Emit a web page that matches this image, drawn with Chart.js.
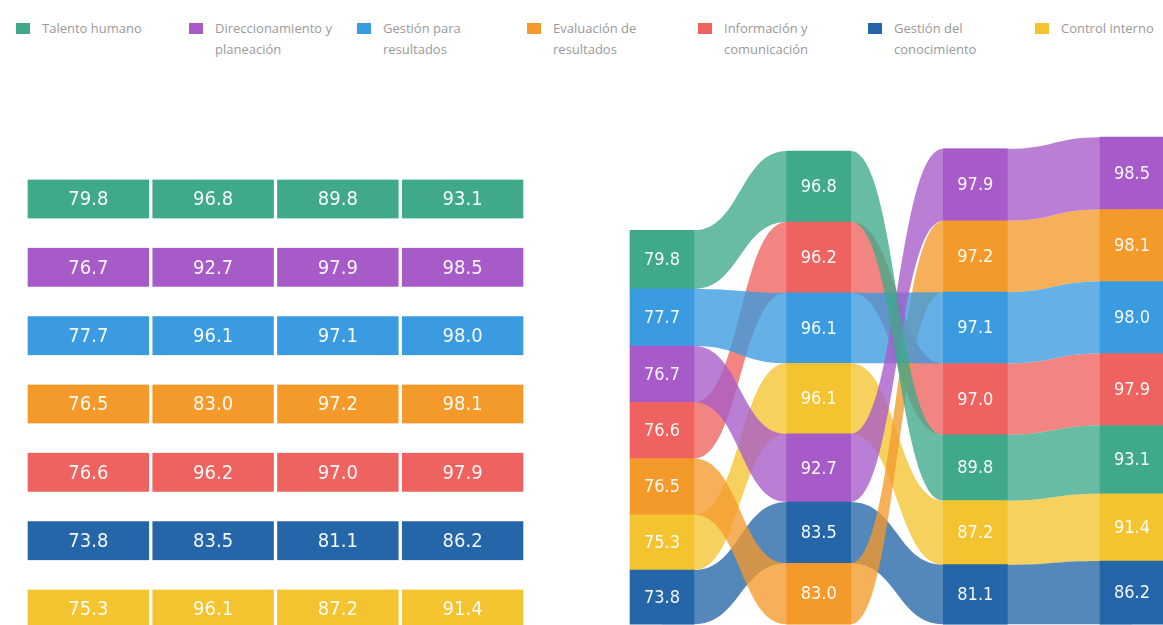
<!DOCTYPE html>
<html>
<head>
<meta charset="utf-8">
<script src="https://cdn.jsdelivr.net/npm/chart.js@4"></script>
<style>
  html, body { margin: 0; padding: 0; background: #fff; }
  body { width: 1163px; height: 625px; position: relative; overflow: hidden; font-family: "Open Sans", sans-serif; }
  #leyenda { position: absolute; top: 0; left: 0; width: 1163px; height: 70px; }
  .item { position: absolute; top: 18px; display: flex; align-items: flex-start; }
  .caja { width: 14px; height: 11px; margin-top: 5px; margin-right: 12px; }
  .texto { font-size: 13px; line-height: 21px; color: #9a9a9a; white-space: nowrap; }
  #tabla { position: absolute; left: 0; top: 0; width: 560px; height: 625px; }
  #flujo { position: absolute; left: 580px; top: 0; width: 583px; height: 625px; }
</style>
</head>
<body>
<div id="leyenda"></div>
<div id="tabla"><canvas id="chartTabla"></canvas></div>
<div id="flujo"><canvas id="chartFlujo"></canvas></div>
<script>
// Categorías (dimensiones) y periodos
const categorias = ["Talento humano", "Direccionamiento y planeación", "Gestión para resultados",
  "Evaluación de resultados", "Información y comunicación", "Gestión del conocimiento", "Control interno"];
const etiquetasLeyenda = ["Talento humano", "Direccionamiento y<br>planeación", "Gestión para<br>resultados",
  "Evaluación de<br>resultados", "Información y<br>comunicación", "Gestión del<br>conocimiento", "Control interno"];
const periodos = ["Periodo 1", "Periodo 2", "Periodo 3", "Periodo 4"];

// Valores por categoría (uno por periodo)
const talentoHumano = [79.8, 96.8, 89.8, 93.1];
const direccionamiento = [76.7, 92.7, 97.9, 98.5];
const gestionResultados = [77.7, 96.1, 97.1, 98.0];
const evaluacion = [76.5, 83.0, 97.2, 98.1];
const informacion = [76.6, 96.2, 97.0, 97.9];
const conocimiento = [73.8, 83.5, 81.1, 86.2];
const controlInterno = [75.3, 96.1, 87.2, 91.4];

const valores = [talentoHumano, direccionamiento, gestionResultados, evaluacion, informacion, conocimiento, controlInterno];
const colores = ["#3fa98a", "#a65bc9", "#3a9be0", "#f39a2b", "#ee635f", "#2466a7", "#f4c430"];

const fuenteNum = '"DejaVu Sans Condensed", "Liberation Sans Narrow", sans-serif';

// Leyenda
const posLeyenda = [16, 189, 357, 527, 698, 868, 1035];
const leyenda = document.getElementById("leyenda");
categorias.forEach((c, i) => {
  const div = document.createElement("div");
  div.className = "item";
  div.style.left = posLeyenda[i] + "px";
  div.innerHTML = `<div class="caja" style="background:${colores[i]}"></div><div class="texto">${etiquetasLeyenda[i]}</div>`;
  leyenda.appendChild(div);
});

// Plugin para escribir valores sobre cada barra
const etiquetas = {
  id: "etiquetas",
  afterDatasetsDraw(chart, args, opts) {
    const ctx = chart.ctx;
    ctx.save();
    ctx.fillStyle = "rgba(255,255,255,0.95)";
    ctx.font = opts.size + "px " + fuenteNum;
    ctx.textAlign = "center";
    ctx.textBaseline = "middle";
    chart.data.datasets.forEach((ds, d) => {
      chart.getDatasetMeta(d).data.forEach((el, i) => {
        const txt = opts.texto(d, i).toFixed(1);
        const p = el.getCenterPoint();
        ctx.fillText(txt, p.x, p.y + 1);
      });
    });
    ctx.restore();
  }
};

// Tabla de la izquierda
new Chart(document.getElementById("chartTabla"), {
  type: "bar",
  data: {
    labels: categorias,
    datasets: periodos.map((p, c) => ({
      label: p,
      data: categorias.map(() => [c, c + 1]),
      backgroundColor: colores,
      borderColor: "#ffffff",
      borderWidth: { left: 2, right: 2, top: 0, bottom: 0 },
      borderSkipped: false,
      barThickness: 39,
      grouped: false,
      clip: false,
    })),
  },
  options: {
    indexAxis: "y",
    responsive: true,
    maintainAspectRatio: false,
    animation: false,
    layout: { padding: { left: 26, right: 35, top: 199, bottom: 16 } },
    plugins: {
      legend: { display: false },
      tooltip: { enabled: false },
      etiquetas: { size: 20, texto: (c, fila) => valores[fila][c] },
    },
    scales: {
      x: { type: "linear", min: 0, max: 4, display: false },
      y: { offset: false, display: false, grid: { display: false } },
    },
  },
  plugins: [etiquetas],
});

// Orden por periodo (mayor arriba)
const orden = periodos.map((p, c) =>
  valores.map((v, k) => k).sort((a, b) => valores[b][c] - valores[a][c] || a - b)
);
const n = categorias.length;

// Flujos entre columnas
const flujos = {
  id: "flujos",
  beforeDatasetsDraw(chart) {
    const ctx = chart.ctx;
    const nodo = (k, c) => chart.getDatasetMeta(n - 1 - orden[c].indexOf(k)).data[c];
    ctx.save();
    for (let k = n - 1; k >= 0; k--) {
      for (let c = 0; c < periodos.length - 1; c++) {
        const a = nodo(k, c), b = nodo(k, c + 1);
        const x0 = a.x + a.width / 2, x1 = b.x - b.width / 2, mx = (x0 + x1) / 2;
        ctx.beginPath();
        ctx.moveTo(a.x, a.y);
        ctx.lineTo(x0, a.y);
        ctx.bezierCurveTo(mx, a.y, mx, b.y, x1, b.y);
        ctx.lineTo(b.x, b.y);
        ctx.lineTo(b.x, b.base);
        ctx.lineTo(x1, b.base);
        ctx.bezierCurveTo(mx, b.base, mx, a.base, x0, a.base);
        ctx.lineTo(a.x, a.base);
        ctx.closePath();
        ctx.globalAlpha = 0.78;
        ctx.fillStyle = colores[k];
        ctx.fill();
      }
    }
    ctx.restore();
  }
};

// Gráfico de flujo (derecha)
new Chart(document.getElementById("chartFlujo"), {
  type: "bar",
  data: {
    labels: periodos,
    datasets: categorias.map((x, d) => {
      const r = n - 1 - d;
      return {
        label: "Posición " + (r + 1),
        data: periodos.map((p, c) => valores[orden[c][r]][c]),
        backgroundColor: periodos.map((p, c) => colores[orden[c][r]]),
        borderWidth: 0,
        barThickness: 64,
        clip: false,
      };
    }),
  },
  options: {
    responsive: true,
    maintainAspectRatio: false,
    animation: false,
    layout: { padding: { left: 82, right: 31, top: 0, bottom: 0 } },
    plugins: {
      legend: { display: false },
      tooltip: { enabled: false },
      etiquetas: { size: 18, texto: (d, c) => valores[orden[c][n - 1 - d]][c] },
    },
    scales: {
      x: { offset: false, display: false, stacked: true },
      y: { stacked: true, min: -1, max: 850, display: false },
    },
  },
  plugins: [flujos, etiquetas],
});
</script>
</body>
</html>
